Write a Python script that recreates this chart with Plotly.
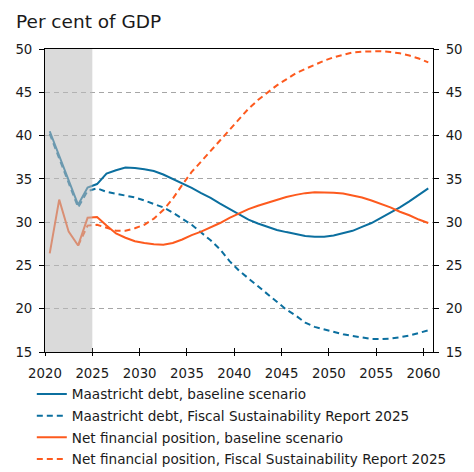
import plotly.graph_objects as go

years = list(range(2020, 2061))

debt_baseline = [40.5, 37.7, 34.8, 32.0, 34.0, 34.4, 35.6, 36.0, 36.3, 36.25,
                 36.1, 35.9, 35.5, 35.0, 34.5, 33.95, 33.35, 32.8, 32.15, 31.5,
                 30.85, 30.3, 29.85, 29.45, 29.1, 28.85, 28.6, 28.4, 28.3, 28.3,
                 28.45, 28.7, 29.0, 29.45, 29.9, 30.5, 31.1, 31.7, 32.4, 33.1,
                 33.9]
debt_fsr = [40.2, 37.4, 34.5, 31.7, 33.6, 33.9, 33.5, 33.3, 33.1, 32.85,
            32.5, 32.1, 31.7, 31.1, 30.4, 29.7, 28.8, 27.9, 26.85, 25.5,
            24.4, 23.5, 22.5, 21.6, 20.75, 19.9, 19.2, 18.4, 17.9, 17.6,
            17.3, 17.05, 16.85, 16.65, 16.5, 16.5, 16.55, 16.7, 16.9, 17.2,
            17.5]
nfp_baseline = [26.4, 32.6, 28.9, 27.3, 30.5, 30.6, 29.6, 28.7, 28.2, 27.8,
                27.6, 27.45, 27.4, 27.6, 28.0, 28.5, 28.9, 29.4, 29.9, 30.5,
                31.0, 31.5, 31.9, 32.25, 32.6, 32.9, 33.15, 33.35, 33.45, 33.45,
                33.4, 33.3, 33.1, 32.85, 32.5, 32.1, 31.7, 31.2, 30.8, 30.3,
                29.9]
nfp_fsr = [None, None, None, 27.3, 29.6, 29.7, 29.35, 29.0, 29.0, 29.3,
           29.7, 30.4, 31.4, 32.7, 34.3, 35.8, 37.0, 38.2, 39.5, 40.7,
           41.9, 43.1, 44.1, 45.0, 45.8, 46.5, 47.2, 47.7, 48.2, 48.65,
           49.05, 49.35, 49.6, 49.7, 49.75, 49.75, 49.65, 49.5, 49.25, 48.9,
           48.45]

series = [
    ("Maastricht debt, baseline scenario", debt_baseline, "#0b6f9f", "solid"),
    ("Maastricht debt, Fiscal Sustainability Report 2025", debt_fsr, "#0b6f9f", "6px,4px"),
    ("Net financial position, baseline scenario", nfp_baseline, "#fd5a1e", "solid"),
    ("Net financial position, Fiscal Sustainability Report 2025", nfp_fsr, "#fd5a1e", "6px,4px"),
]

# annual values sit in the middle of each year interval
xpos = [y + 0.5 for y in years]

FONT = "DejaVu Sans"
fig = go.Figure()
for i, (name, vals, color, dash) in enumerate(series):
    fig.add_trace(go.Scatter(
        x=xpos, y=vals, name=name, mode="lines",
        line=dict(color=color, width=2, dash=dash),
        legendgroup=f"g{i}",
    ))

# helper traces so the mirrored axes are drawn
fig.add_trace(go.Scatter(x=[2030], y=[30], xaxis="x2", yaxis="y",
                         mode="markers", marker=dict(opacity=0),
                         showlegend=False, hoverinfo="skip"))
fig.add_trace(go.Scatter(x=[2030], y=[30], xaxis="x", yaxis="y2",
                         mode="markers", marker=dict(opacity=0),
                         showlegend=False, hoverinfo="skip"))

# shaded history period
fig.add_shape(type="rect", xref="x", yref="y", x0=2020, x1=2025, y0=15, y1=50,
              fillcolor="rgba(188,188,188,0.55)", line=dict(width=0), layer="above")

tickvals_x = list(range(2020, 2061, 5))
fig.update_layout(
    width=474, height=472,
    margin=dict(l=45, r=41, t=49, b=120, autoexpand=False),
    paper_bgcolor="white", plot_bgcolor="white",
    font=dict(family=FONT, size=13, color="#1a1a1a"),
    showlegend=True,
    legend=dict(x=-0.034, y=-0.088, xanchor="left", yanchor="top",
                font=dict(size=13.6, family=FONT, color="#1a1a1a"),
                tracegroupgap=1, bgcolor="rgba(0,0,0,0)"),
    xaxis=dict(range=[2020, 2061], tickvals=tickvals_x,
               ticktext=[str(v) for v in tickvals_x],
               showgrid=False, zeroline=False,
               showline=True, linecolor="black", linewidth=1, mirror=True,
               ticks="outside", ticklen=3, tickcolor="black",
               tickfont=dict(size=13.3, family=FONT), ticklabelstandoff=6),
    xaxis2=dict(overlaying="x", matches="x", anchor="y", side="bottom",
                tickvals=tickvals_x, showticklabels=False, showgrid=False,
                zeroline=False, showline=False,
                ticks="inside", ticklen=4, tickcolor="black"),
    yaxis=dict(range=[15, 50], dtick=5, tick0=15,
               showgrid=True, gridcolor="#a6a6a6", gridwidth=1, griddash="5px,4px",
               zeroline=False, showline=True, linecolor="black", linewidth=1,
               ticks="outside", ticklen=5, tickcolor="black",
               tickfont=dict(size=13.3, family=FONT), ticklabelstandoff=4),
    yaxis2=dict(overlaying="y", matches="y", side="right", anchor="x",
                range=[15, 50], dtick=5, tick0=15,
                showgrid=False, zeroline=False,
                showline=True, linecolor="black", linewidth=1,
                ticks="outside", ticklen=5, tickcolor="black",
                tickfont=dict(size=13.3, family=FONT), ticklabelstandoff=4),
    annotations=[dict(text="Per cent of GDP", xref="paper", yref="paper",
                      x=-0.08, y=1.092, xanchor="left", yanchor="middle",
                      showarrow=False, font=dict(size=18.5, family=FONT, color="#1a1a1a"))],
)

fig.write_html("out.html")
